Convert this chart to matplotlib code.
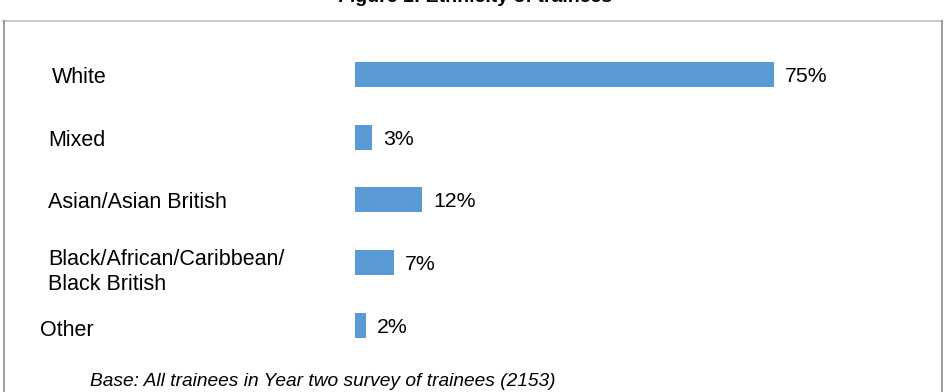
import matplotlib
matplotlib.use("Agg")
import matplotlib.pyplot as plt
from matplotlib.lines import Line2D

plt.rcParams['font.family'] = ['Liberation Sans', 'DejaVu Sans']

categories = ["White", "Mixed", "Asian/Asian British",
              "Black/African/Caribbean/\nBlack British", "Other"]
values = [75, 3, 12, 7, 2]
value_labels = ["75%", "3%", "12%", "7%", "2%"]
title = "Figure 1: Ethnicity of trainees"
base_note = "Base: All trainees in Year two survey of trainees (2153)"

W, H = 951, 392
fig = plt.figure(figsize=(W / 100, H / 100), dpi=100)

def fx(px):
    return px / W

def fy(py):
    return 1 - py / H

# frame box
fig.add_artist(Line2D([fx(3), fx(942)], [fy(21), fy(21)], color="#BFBFBF", lw=1.2))
fig.add_artist(Line2D([fx(3.5), fx(3.5)], [fy(21), fy(400)], color="#8C8C8C", lw=1.2))
fig.add_artist(Line2D([fx(941.5), fx(941.5)], [fy(21), fy(400)], color="#8C8C8C", lw=1.2))

# title (partly cut off at top, as in the source)
fig.text(0.5, fy(2), title, ha="center", va="baseline", fontsize=14,
         fontweight="bold", color="#000000")

# axes
left_px, right_px = 355, 942
top_px, bot_px = 43.1, 356.6
ax = fig.add_axes([fx(left_px), fy(bot_px), fx(right_px - left_px), (bot_px - top_px) / H])
scale = (774 - 355) / 75.0
ax.set_xlim(0, (right_px - left_px) / scale)
ax.set_ylim(4.5, -0.5)
ax.axis("off")

ypos = list(range(len(categories)))
ax.barh(ypos, values, height=0.4, color="#5B9BD5")
for y, v, lab in zip(ypos, values, value_labels):
    ax.annotate(lab, (v, y), xytext=(8, -1.5), textcoords="offset points",
                ha="left", va="center", fontsize=15.3, color="#000000")

label_x = [52, 48, 48, 48, 40]
label_dy = [3, 3, 3, 9, 5]
for i, (cat, lx, dy) in enumerate(zip(categories, label_x, label_dy)):
    cy = 74.5 + 62.7 * i + dy
    fig.text(fx(lx), fy(cy), cat, ha="left", va="center", fontsize=15.5,
             linespacing=1.25, color="#000000")

fig.text(fx(90), fy(382), base_note, ha="left", va="center", fontsize=13.8,
         style="italic", color="#000000")

fig.savefig("out.png", dpi=100, facecolor="white")
